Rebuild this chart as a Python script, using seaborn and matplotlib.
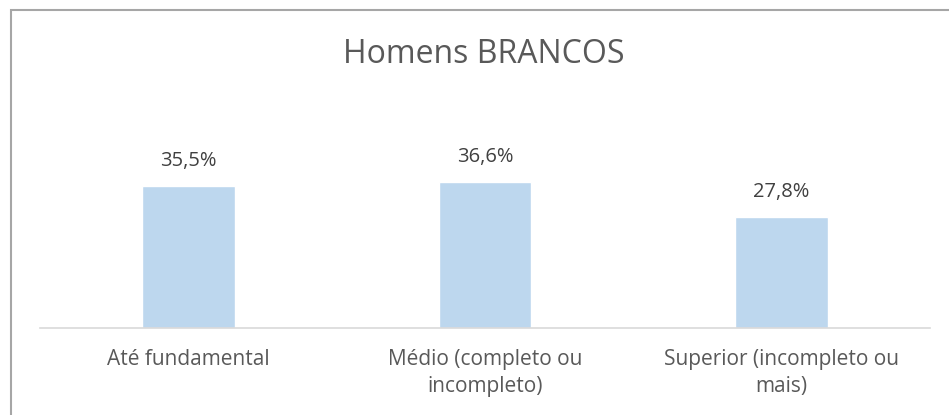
import matplotlib
matplotlib.use("Agg")
import matplotlib.pyplot as plt
import seaborn as sns
import pandas as pd
from matplotlib.patches import Rectangle

categorias = ["Até fundamental", "Médio (completo ou\nincompleto)", "Superior (incompleto ou\nmais)"]
valores = [35.5, 36.6, 27.8]
rotulos = ["35,5%", "36,6%", "27,8%"]

df = pd.DataFrame({"categoria": categorias, "valor": valores})

sns.set_style("white")
plt.rcParams["font.family"] = ["Open Sans", "DejaVu Sans"]

fig = plt.figure(figsize=(9.49, 4.15), dpi=100)
ax = fig.add_axes([40 / 949, 1 - 328 / 415, 890 / 949, 160 / 415])

sns.barplot(data=df, x="categoria", y="valor", color="#BDD7EE", saturation=1,
            width=0.313, ax=ax)

ax.set_ylim(0, 40)
ax.set_xlim(-0.5, 2.5)
ax.bar_label(ax.containers[0], labels=rotulos, padding=10.5, fontsize=14.5, color="#404040")

for s in ["top", "right", "left"]:
    ax.spines[s].set_visible(False)
ax.spines["bottom"].set_color("#D9D9D9")
ax.spines["bottom"].set_linewidth(1.2)
ax.set_yticks([])
ax.set_xlabel("")
ax.set_ylabel("")
ax.tick_params(axis="x", length=0, pad=15, labelsize=15, labelcolor="#595959")
for t in ax.get_xticklabels():
    t.set_linespacing(1.4)
    t.set_verticalalignment("top")

fig.text(484 / 949, 1 - 63 / 415, "Homens BRANCOS", ha="center", va="baseline",
         fontsize=23, color="#595959")

# moldura do gráfico
fig.patches.append(Rectangle((11 / 949, -0.5), 2, 1.5 - 10 / 415, transform=fig.transFigure,
                             fill=False, edgecolor="#A6A6A6", linewidth=1.5))

fig.savefig("out.png", dpi=100)
